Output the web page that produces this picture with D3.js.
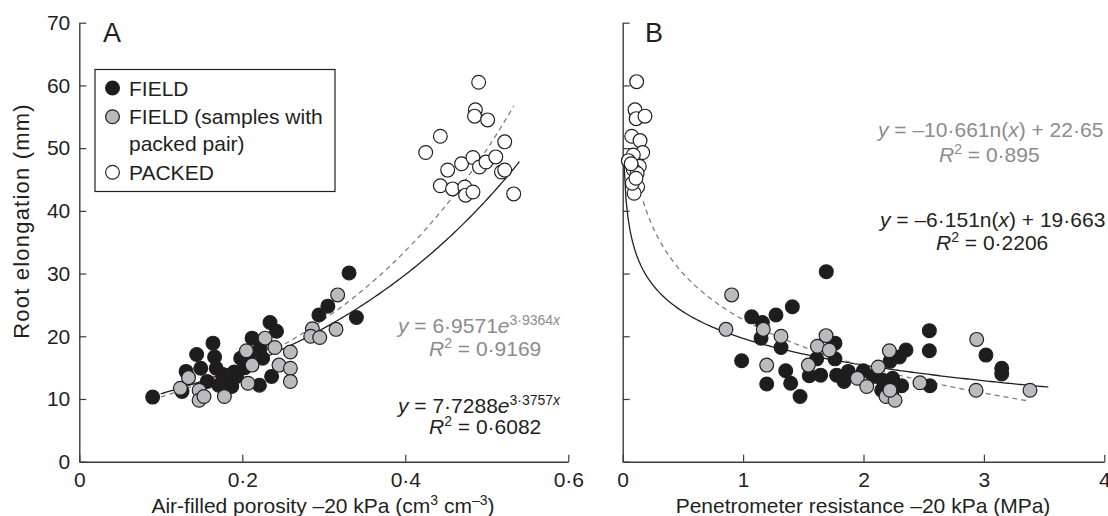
<!DOCTYPE html>
<html>
<head>
<meta charset="utf-8">
<script src="https://cdn.jsdelivr.net/npm/d3@7"></script>
<style>
  body { margin: 0; background: #fff; }
  svg { font-family: "Liberation Sans", Arial, Helvetica, sans-serif; }
</style>
</head>
<body>
<svg id="chart" width="1108" height="516"></svg>
<script>
// ---- data ----
// panel A: air-filled porosity vs root elongation
const fieldA = [[0.090,10.3],[0.126,11.2],[0.131,14.4],[0.144,17.1],[0.149,14.9],[0.157,12.8],
  [0.164,18.9],[0.166,16.7],[0.168,14.9],[0.171,12.2],[0.176,13.9],[0.179,13.8],[0.183,12.8],
  [0.187,12.0],[0.190,14.3],[0.193,13.6],[0.198,16.5],[0.203,15.0],[0.209,17.3],[0.212,19.7],
  [0.222,18.1],[0.225,16.5],[0.221,12.2],[0.234,22.2],[0.242,20.8],[0.236,13.6],[0.294,23.4],
  [0.305,24.8],[0.331,30.1],[0.340,23.0]];
const pairA = [[0.124,11.7],[0.134,13.4],[0.147,11.4],[0.147,9.8],[0.153,10.4],[0.178,10.4],
  [0.205,17.7],[0.212,15.4],[0.207,12.5],[0.228,19.7],[0.240,18.2],[0.245,15.4],[0.259,17.5],
  [0.259,14.9],[0.259,12.8],[0.286,21.2],[0.284,20.0],[0.295,19.8],[0.315,21.1],[0.317,26.6]];
const packedA = [[0.490,60.5],[0.486,56.1],[0.485,55.1],[0.501,54.5],[0.443,51.9],[0.425,49.3],
  [0.522,51.0],[0.452,46.5],[0.469,47.5],[0.483,48.5],[0.491,47.0],[0.499,47.8],[0.511,48.6],
  [0.518,46.2],[0.522,46.5],[0.443,44.0],[0.458,43.5],[0.473,43.8],[0.474,42.5],[0.483,43.0],
  [0.533,42.7]];

// panel B: penetrometer resistance vs root elongation
const fieldB = [[1.071,23.1],[1.160,22.2],[1.273,23.4],[1.409,24.7],[1.149,19.7],[1.315,18.2],
  [0.988,16.1],[1.354,14.5],[1.196,12.4],[1.395,12.5],[1.473,10.4],[1.550,13.7],[1.644,13.8],
  [1.611,16.4],[1.763,18.9],[1.763,16.4],[1.777,13.8],[1.838,12.8],[1.874,14.4],[1.999,14.5],
  [2.081,13.6],[2.159,13.0],[2.151,11.4],[2.234,10.9],[2.242,13.3],[2.317,12.1],[2.220,16.0],
  [2.298,16.7],[2.353,17.8],[2.547,20.9],[2.547,17.7],[2.552,12.1],[3.017,17.0],[3.148,14.9],
  [3.148,14.0],[1.691,30.3]];
const pairB = [[0.905,26.6],[0.858,21.1],[1.168,21.1],[1.196,15.4],[1.315,20.0],[1.617,18.4],
  [1.689,20.1],[1.542,15.4],[1.716,17.8],[1.949,13.3],[2.027,12.0],[2.123,15.1],[2.215,17.7],
  [2.187,10.4],[2.262,9.8],[2.220,11.4],[2.469,12.6],[2.940,19.5],[2.935,11.4],[3.383,11.4]];
const packedB = [[0.116,60.6],[0.102,56.1],[0.112,54.7],[0.185,55.1],[0.075,51.9],[0.144,51.2],
  [0.166,49.3],[0.088,48.9],[0.047,48.0],[0.138,47.1],[0.088,46.6],[0.120,46.0],[0.102,43.9],
  [0.124,43.8],[0.095,42.8],[0.080,44.4],[0.070,47.5],[0.110,45.2]];

// fitted curves: [coef, exponent/intercept, xStart, xEnd]
const expFieldA = [7.7288, 3.3757, 0.10, 0.54];
const expAllA = [6.9571, 3.9364, 0.10, 0.533];
const logFieldB = [-6.151, 19.663, 0.01, 3.535];
const logAllB = [-10.66, 22.65, 0.17, 3.38];

const xTicksA = [0, 0.2, 0.4, 0.6];
const xTicksB = [0, 1, 2, 3, 4];
const yTicks = [0, 10, 20, 30, 40, 50, 60, 70];
const legendLabels = [["FIELD"], ["FIELD (samples with", "packed pair)"], ["PACKED"]];

// ---- drawing ----
const svg = d3.select("#chart");
const ink = "#231f20", grey = "#8c8c8c";
const fills = ["#1d1d1d", "#b9bbbe", "#ffffff"];
const r = 6.9;
const fs = "21px", fsSup = "14px";

const y = d3.scaleLinear().domain([0, 70]).range([461.7, 22.7]);
const xA = d3.scaleLinear().domain([0, 0.6]).range([79.3, 568.3]);
const xB = d3.scaleLinear().domain([0, 4]).range([622.7, 1104.3]);

const fmt = d => d === 0 ? "0" : (Number.isInteger(d) ? String(d) : d3.format(".1f")(d).replace(".", "·"));

function axes(x, ticks, showY) {
  const gx = svg.append("g")
      .attr("transform", "translate(0," + y(0) + ")")
      .call(d3.axisBottom(x).tickValues(ticks).tickFormat(fmt)
        .tickSize(-7).tickSizeOuter(0).tickPadding(10));
  const gy = svg.append("g")
      .attr("transform", "translate(" + x(0) + ",0)")
      .call(d3.axisLeft(y).tickValues(yTicks).tickFormat(showY ? fmt : "")
        .tickSize(-7).tickSizeOuter(0).tickPadding(9));
  [gx, gy].forEach(g => {
    g.select(".domain").attr("stroke", "#3a3a3a").attr("stroke-width", 1.4);
    g.selectAll(".tick line").attr("stroke", "#3a3a3a").attr("stroke-width", 1.2);
    g.selectAll("text").attr("fill", ink).style("font-size", fs)
      .style("font-family", "'Liberation Sans', Arial, sans-serif");
  });
}
axes(xA, xTicksA, true);
axes(xB, xTicksB, false);

function curve(x, f, x0, x1, dashed) {
  const pts = d3.range(0, 201).map(i => x0 + (x1 - x0) * i / 200);
  svg.append("path")
    .datum(pts)
    .attr("fill", "none")
    .attr("stroke", dashed ? "#777" : ink)
    .attr("stroke-width", dashed ? 1.2 : 1.3)
    .attr("stroke-dasharray", dashed ? "5,4" : null)
    .attr("d", d3.line().x(d => x(d)).y(d => y(f(d))));
}
curve(xA, v => expFieldA[0] * Math.exp(expFieldA[1] * v), expFieldA[2], expFieldA[3], false);
curve(xA, v => expAllA[0] * Math.exp(expAllA[1] * v), expAllA[2], expAllA[3], true);
curve(xB, v => logFieldB[0] * Math.log(v) + logFieldB[1], logFieldB[2], logFieldB[3], false);
curve(xB, v => logAllB[0] * Math.log(v) + logAllB[1], logAllB[2], logAllB[3], true);

function points(x, data, fill) {
  svg.append("g").selectAll("circle")
    .data(data)
    .enter()
    .append("circle")
      .attr("cx", d => x(d[0]))
      .attr("cy", d => y(d[1]))
      .attr("r", r)
      .attr("fill", fill)
      .attr("stroke", ink)
      .attr("stroke-width", 1.2);
}
points(xA, fieldA, fills[0]); points(xA, pairA, fills[1]); points(xA, packedA, fills[2]);
points(xB, fieldB, fills[0]); points(xB, pairB, fills[1]); points(xB, packedB, fills[2]);

// panel letters
svg.append("text").attr("x", 103).attr("y", 42).style("font-size", "27px").attr("fill", ink).text("A");
svg.append("text").attr("x", 645).attr("y", 42).style("font-size", "27px").attr("fill", ink).text("B");

// axis titles
svg.append("text")
    .attr("x", 323).attr("y", 513)
    .attr("text-anchor", "middle").style("font-size", fs).attr("fill", ink)
    .call(t => {
      t.append("tspan").text("Air-filled porosity –20 kPa (cm");
      t.append("tspan").attr("dy", -8).style("font-size", fsSup).text("3");
      t.append("tspan").attr("dy", 8).text(" cm");
      t.append("tspan").attr("dy", -8).style("font-size", fsSup).text("–3");
      t.append("tspan").attr("dy", 8).text(")");
    });
svg.append("text")
    .attr("x", 863).attr("y", 513)
    .attr("text-anchor", "middle").style("font-size", fs).attr("fill", ink)
    .text("Penetrometer resistance –20 kPa (MPa)");
svg.append("text")
    .attr("transform", "translate(29,221) rotate(-90)")
    .attr("text-anchor", "middle").style("font-size", "22px").style("letter-spacing", "1.2px")
    .attr("fill", ink)
    .text("Root elongation (mm)");

// legend
const lg = svg.append("g");
lg.append("rect").attr("x", 95).attr("y", 69.5).attr("width", 240).attr("height", 122)
  .attr("fill", "#fff").attr("stroke", ink).attr("stroke-width", 1.2);
const rowY = [88, 116.7, 172.3];
legendLabels.forEach((lines, i) => {
  lg.append("circle").attr("cx", 112.5).attr("cy", rowY[i]).attr("r", r)
    .attr("fill", fills[i]).attr("stroke", ink).attr("stroke-width", 1.2);
  lines.forEach((s, j) => {
    lg.append("text").attr("x", 129).attr("y", rowY[i] + 7.5 + j * 27)
      .style("font-size", fs).attr("fill", ink).text(s);
  });
});

// equations
function expEq(x, yb, a, b, col) {
  const t = svg.append("text").attr("x", x).attr("y", yb).style("font-size", fs).attr("fill", col);
  t.append("tspan").style("font-style", "italic").text("y");
  t.append("tspan").text(" = " + a);
  t.append("tspan").style("font-style", "italic").text("e");
  t.append("tspan").attr("dy", -8).style("font-size", fsSup).text(b);
  t.append("tspan").style("font-size", fsSup).style("font-style", "italic").text("x");
}
function r2(x, yb, v, col) {
  const t = svg.append("text").attr("x", x).attr("y", yb).style("font-size", fs).attr("fill", col);
  t.append("tspan").style("font-style", "italic").text("R");
  t.append("tspan").attr("dy", -8).style("font-size", fsSup).text("2");
  t.append("tspan").attr("dy", 8).text(" = " + v);
}
function logEq(x, yb, a, b, col) {
  const t = svg.append("text").attr("x", x).attr("y", yb).style("font-size", fs).attr("fill", col);
  t.append("tspan").style("font-style", "italic").text("y");
  t.append("tspan").text(" = " + a + "n(");
  t.append("tspan").style("font-style", "italic").text("x");
  t.append("tspan").text(") + " + b);
}
expEq(398, 333, "6·9571", "3·9364", grey);
r2(429, 356, "0·9169", grey);
expEq(398, 413, "7·7288", "3·3757", ink);
r2(429, 434, "0·6082", ink);
logEq(878, 137, "–10·661", "22·65", grey);
r2(939, 162, "0·895", grey);
logEq(880, 227, "–6·151", "19·663", ink);
r2(936, 250, "0·2206", ink);
</script>
</body>
</html>
